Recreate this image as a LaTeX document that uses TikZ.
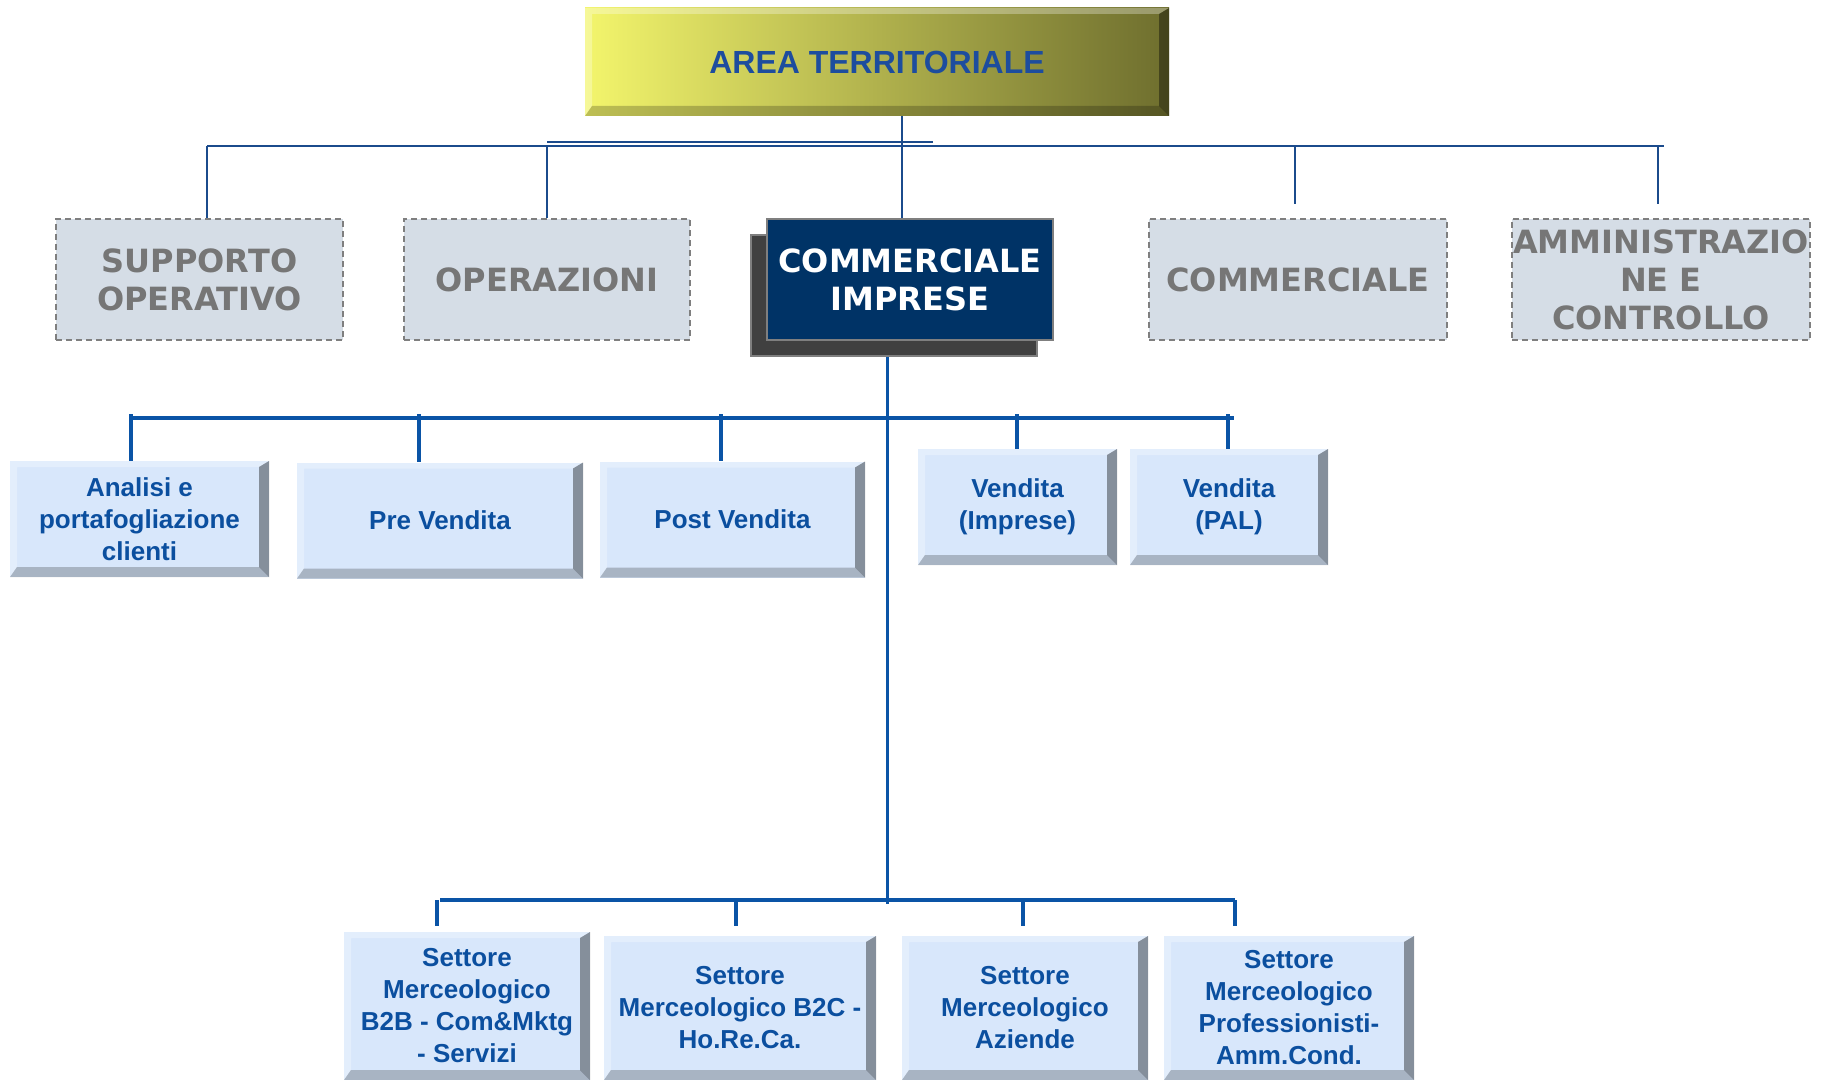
\documentclass[tikz,border=0pt]{standalone}
\usepackage{fontspec}
\usetikzlibrary{calc,shadows}
\newfontfamily\arialfont{Liberation Sans}
\newfontfamily\dejafont{DejaVu Sans}
\definecolor{linkblue}{HTML}{0A54A6}
\definecolor{topblue}{HTML}{1B4B8C}
\definecolor{textblue}{HTML}{0B4F9F}
\definecolor{areablue}{HTML}{1D4D9E}
\definecolor{unitface}{HTML}{D8E7FB}
\definecolor{staffface}{HTML}{D5DDE6}
\definecolor{staffline}{HTML}{7F7F7F}
\definecolor{stafftext}{HTML}{767676}
\definecolor{navy}{HTML}{003366}
\definecolor{shadowgray}{HTML}{404040}
\definecolor{areayellow}{HTML}{F3F56C}
\definecolor{areaolive}{HTML}{6E6E2E}

\begin{document}
\begin{tikzpicture}[x=0.5pt,y=-0.5pt,
  bevel/.style={path picture={
    \path (path picture bounding box.north west) coordinate (p1)
          (path picture bounding box.north east) coordinate (p2)
          (path picture bounding box.south east) coordinate (p3)
          (path picture bounding box.south west) coordinate (p4)
          ([shift={(3.5pt,-3pt)}]p1) coordinate (q1)
          ([shift={(-5pt,-3pt)}]p2) coordinate (q2)
          ([shift={(-5pt,5pt)}]p3) coordinate (q3)
          ([shift={(3.5pt,5pt)}]p4) coordinate (q4);
    \fill[white,opacity=.3] (p1) -- (p2) -- (q2) -- (q1) -- cycle
      (p1) -- (q1) -- (q4) -- (p4) -- cycle;
    \fill[black,opacity=.38] (p2) -- (p3) -- (q3) -- (q2) -- cycle;
    \fill[black,opacity=.22] (p4) -- (q4) -- (q3) -- (p3) -- cycle;}},
  unitbox/.style={bevel,fill=unitface,text=textblue,align=center,inner sep=0pt,
    font=\arialfont\bfseries\fontsize{13}{16}\selectfont},
  staffbox/.style={draw=staffline,dash pattern=on 3pt off 2pt,line width=1pt,
    fill=staffface,text=stafftext,align=center,inner sep=0pt,
    font=\dejafont\bfseries\fontsize{16}{19}\selectfont},
  thinlink/.style={draw=topblue,line width=1.2pt},
  buslink/.style={draw=linkblue,line width=1.8pt}]
\useasboundingbox (0,0) rectangle (1824,1080);

% head of the area
\node[bevel,left color=areayellow,right color=areaolive,inner sep=0pt,
  minimum width=292pt,minimum height=54pt,text=areablue,
  font=\arialfont\bfseries\fontsize{16}{19}\selectfont] (area) at (877,62)
  {AREA TERRITORIALE};

% staff units; only the commercial one is expanded below
\foreach \x/\w/\n/\t in {199.5/143.5/sup/{SUPPORTO\\OPERATIVO},
    547/143/ope/{OPERAZIONI},1298/149/com/{COMMERCIALE},
    1661/149/amm/{AMMINISTRAZIO\\NE E\\CONTROLLO}}
  \node[staffbox,minimum width=\w pt,minimum height=60.5pt] (\n) at (\x,279.5) {\t};

\node[fill=navy,draw=staffline,line width=.8pt,text=white,align=center,inner sep=0pt,
  minimum width=143pt,minimum height=60.5pt,
  font=\dejafont\bfseries\fontsize{16}{19}\selectfont,
  general shadow={fill=shadowgray,draw=staffline,shadow xshift=-8pt,shadow yshift=-8pt}]
  (ci) at (910,279.5) {COMMERCIALE\\IMPRESE};

% second row: support and sales
\foreach \x/\y/\w/\n/\t in {139.5/519/129.5/ana/{Analisi e\\portafogliazione\\clienti},
    440/520.5/143/pre/{Pre Vendita},732.5/519.5/132.5/post/{Post Vendita},
    1017.5/507/99.5/vimp/{Vendita\\(Imprese)},1229/507/99/vpal/{Vendita\\(PAL)}}
  \node[unitbox,minimum width=\w pt,minimum height=58pt] (\n) at (\x,\y) {\t};

% third row: market sectors (cut by the page edge)
\foreach \x/\y/\w/\h/\n/\t in {467/1006/123/74/b2b/{Settore\\Merceologico\\B2B - Com\&Mktg\\- Servizi},
    740/1008/136/72/b2c/{Settore\\Merceologico B2C -\\Ho.Re.Ca.},
    1025/1008/123/72/azi/{Settore\\Merceologico\\Aziende},
    1289/1008/125/72/pro/{Settore\\Merceologico\\Professionisti-\\Amm.Cond.}}
  \node[unitbox,minimum width=\w pt,minimum height=\h pt] (\n) at (\x,\y) {\t};

% connectors of the first level
\coordinate (topbus) at (902,146);
\draw[thinlink] (topbus |- area.south) -- (topbus |- ci.north);
\draw[thinlink] (207,146) -- (1664,146);
\draw[thinlink,line width=.8pt] (547,142) -- (933,142);
\foreach \x/\n in {207/sup,547/ope}
  \draw[thinlink] (\x,146) -- (\x,146 |- \n.north);
\foreach \x in {1295,1658}
  \draw[thinlink] (\x,146) -- (\x,204);

% trunk of COMMERCIALE IMPRESE
\coordinate (midtrunk) at (887,904);
\draw[buslink,line width=1.5pt] ([xshift=-11.5pt,yshift=-8pt]ci.south) -- (midtrunk);

\draw[buslink] (131,418) -- (1234,418);
\foreach \x/\n in {131/ana,419/pre,721/post,1017/vimp,1228/vpal}
  \draw[buslink] (\x,414) -- (\x,414 |- \n.north);

\draw[buslink] (440,900) -- (1235,900);
\foreach \x in {437,736,1023,1235}
  \draw[buslink] (\x,900) -- (\x,926);
\end{tikzpicture}
\end{document}
